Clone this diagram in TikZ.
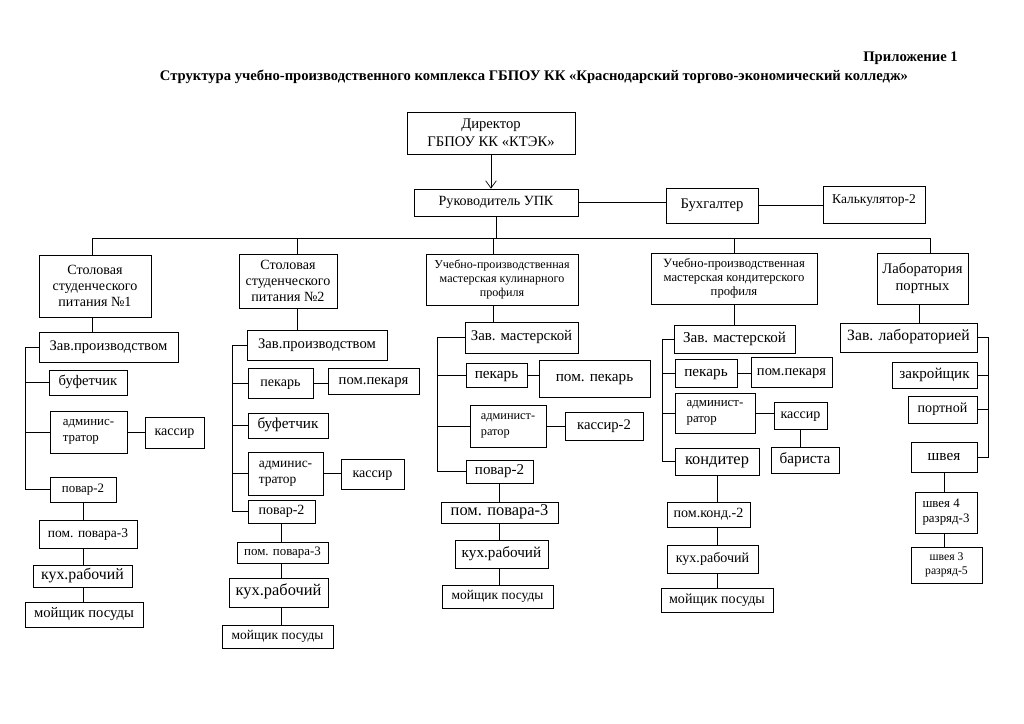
\documentclass[tikz,border=0pt]{standalone}
\usepackage{fontspec}
\setmainfont{Liberation Serif}
\usetikzlibrary{arrows.meta}

\tikzset{
  box/.style={draw, inner sep=0pt, align=center, font=\fontsize{12}{14}\selectfont,
    text height=8pt, text depth=2.6pt},
  lines/.style={text height=, text depth=},
  wh/.style 2 args={minimum width={#1*0.3mm}, minimum height={#2*0.3mm}},
  fs/.style={font=\fontsize{#1}{14}\selectfont},
  fsl/.style={font=\fontsize{#1}{12}\selectfont}
}

\begin{document}
\begin{tikzpicture}[x=0.3mm, y=-0.3mm, line width=0.6pt, >={Straight Barb[length=2.2mm,width=3.2mm]}]
  \useasboundingbox (0,0) rectangle (1024,724);

  % заголовок
  \node[anchor=east, font=\bfseries\fontsize{12.5}{14}\selectfont] (app) at (962,58) {Приложение 1};
  \node[font=\bfseries\fontsize{12.5}{14}\selectfont] (title) at (534,77) {Структура учебно-производственного комплекса ГБПОУ КК «Краснодарский торгово-экономический колледж»};

  % руководство
  \node[box, lines, wh={168}{42}, font=\fontsize{12.5}{15.5}\selectfont] (dir) at (491,133) {Директор\\ГБПОУ КК «КТЭК»};
  \node[box, wh={164}{27}] (ruk) at (496,202.5) {Руководитель УПК};
  \node[box, wh={92}{35}, fs=12.5] (buh) at (712,205.5) {Бухгалтер};
  \node[box, wh={102}{37}, fs=11.5, text depth=10.2pt] (kalk) at (874,204.5) {Калькулятор-2};

  \draw[->] (dir.south) -- (dir.south |- ruk.north);
  \draw (ruk.east) -- (ruk.east -| buh.west);
  \draw (buh.east) -- (buh.east -| kalk.west);

  % столовая №1
  \node[box, lines, wh={112}{62}] (head1) at (95,286) {Столовая\\студенческого\\питания №1};
  \node[box, wh={139}{30}, fs=12.5] (zav1) at (108.5,347) {Зав.производством};
  \node[box, wh={78}{25}, fs=12.5] (buf1) at (88,382.5) {буфетчик};
  \node[box, lines, wh={77}{42}, fs=11, align=left] (adm1) at (88.5,432) {админис-\\тратор};
  \node[box, wh={59}{31}] (kas1) at (174.5,432.5) {кассир};
  \node[box, wh={66}{25}, fs=11] (pov1) at (83,489.5) {повар-2};
  \node[box, wh={98}{28}, fs=11.5] (pom1) at (88,534) {пом. повара-3};
  \node[box, wh={99}{22}, fs=13.5] (kuh1) at (82.5,576) {кух.рабочий};
  \node[box, wh={118}{25}, fs=12.5] (moy1) at (84,614.5) {мойщик посуды};

  % столовая №2
  \node[box, lines, wh={98}{54}] (head2) at (288,281) {Столовая\\студенческого\\питания №2};
  \node[box, wh={140}{30}, fs=12.5] (zav2) at (317,345) {Зав.производством};
  \node[box, wh={65}{30}] (pek2) at (280.5,383) {пекарь};
  \node[box, wh={91}{26}, fs=12.5] (ppek2) at (373.5,381) {пом.пекаря};
  \node[box, wh={80}{25}, fs=13] (buf2) at (288,425.5) {буфетчик};
  \node[box, lines, wh={75}{43}, fs=11.5, align=left] (adm2) at (285.5,473.5) {админис-\\тратор};
  \node[box, wh={63}{30}] (kas2) at (372.5,474) {кассир};
  \node[box, wh={67}{23}] (pov2) at (281.5,511.5) {повар-2};
  \node[box, wh={91}{21}, fs=11] (pom2) at (282.5,552.5) {пом. повара-3};
  \node[box, wh={99}{29}, fs=14] (kuh2) at (278.5,592.5) {кух.рабочий};
  \node[box, wh={111}{23}, fs=11.5] (moy2) at (277.5,636.5) {мойщик посуды};

  % мастерская кулинарного профиля
  \node[box, lines, wh={152}{51}, fsl=10.3] (head3) at (502,279.5) {Учебно-производственная\\мастерская кулинарного\\профиля};
  \node[box, wh={113}{31}, fs=12.7] (zav3) at (521.5,337.5) {Зав. мастерской};
  \node[box, wh={61}{24}, fs=13] (pek3) at (496.5,375) {пекарь};
  \node[box, wh={111}{37}, fs=13] (ppek3) at (594.5,378.5) {пом. пекарь};
  \node[box, lines, wh={76}{42}, fs=10.5, align=left] (adm3) at (508,426) {админист-\\ратор};
  \node[box, wh={78}{28}, fs=12.5] (kas3) at (604,426) {кассир-2};
  \node[box, wh={67}{23}, fs=12.8] (pov3) at (499.5,471.5) {повар-2};
  \node[box, wh={117}{21}, fs=14] (pom3) at (499.5,512.5) {пом. повара-3};
  \node[box, wh={93}{28}, fs=13] (kuh3) at (501.5,554) {кух.рабочий};
  \node[box, wh={111}{23}, fs=11.5] (moy3) at (497.5,596.5) {мойщик посуды};

  % мастерская кондитерского профиля
  \node[box, lines, wh={166}{51}, fsl=10.8] (head4) at (734,278.5) {Учебно-производственная\\мастерская кондитерского\\профиля};
  \node[box, wh={121}{28}, fs=12.9] (zav4) at (734.5,339) {Зав. мастерской};
  \node[box, wh={62}{28}, fs=13] (pek4) at (706,373) {пекарь};
  \node[box, wh={81}{30}, fs=12.4] (ppek4) at (791.5,372) {пом.пекаря};
  \node[box, lines, wh={80}{40}, fs=11, align=left] (adm4) at (715,413) {админист-\\ратор};
  \node[box, wh={53}{27}] (kas4) at (800.5,415.5) {кассир};
  \node[box, wh={68}{26}, fs=13] (bar4) at (805,460) {бариста};
  \node[box, wh={84}{27}, fs=14] (pov4) at (717,461.5) {кондитер};
  \node[box, wh={83}{25}] (pom4) at (708.5,514.5) {пом.конд.-2};
  \node[box, wh={91}{28}] (kuh4) at (712.5,559) {кух.рабочий};
  \node[box, wh={112}{24}] (moy4) at (717,600) {мойщик посуды};

  % лаборатория портных
  \node[box, lines, wh={91}{51}, font=\fontsize{12.5}{15}\selectfont] (head5) at (922.5,278.5) {Лаборатория\\портных};
  \node[box, wh={137}{29}, fs=13.4] (zav5) at (908.5,337.5) {Зав. лабораторией};
  \node[box, wh={85}{26}, fs=12.9] (zakr5) at (934.5,375) {закройщик};
  \node[box, wh={69}{27}] (port5) at (942.5,409.5) {портной};
  \node[box, wh={66}{30}, fs=13] (pov5) at (944,457) {швея};
  \node[box, lines, wh={62}{41}, align=left, font=\fontsize{11}{13}\selectfont] (sh4) at (946,512.5) {швея 4\\разряд-3};
  \node[box, lines, wh={71}{36}, font=\fontsize{10}{12.5}\selectfont] (sh3) at (946.5,565) {швея 3\\разряд-5};

  % общая шина
  \coordinate (s1) at (92,238);
  \coordinate (s2) at (297,238);
  \coordinate (s3) at (493,238);
  \coordinate (s4) at (734,238);
  \coordinate (s5) at (930,238);
  \draw (s1) -- (s5);
  \draw (ruk.south) -- (ruk.south |- s3);
  \foreach \c in {1,...,5} {
    \draw (s\c) -- (s\c |- head\c.north);
  }
  \foreach \c in {1,...,4} {
    \draw (s\c |- head\c.south) -- (s\c |- zav\c.north);
  }
  \coordinate (t5) at (919,0);
  \draw (t5 |- head5.south) -- (t5 |- zav5.north);

  % боковые стойки
  \coordinate (r1) at (25,0);
  \coordinate (r2) at (232,0);
  \coordinate (r3) at (437,0);
  \coordinate (r4) at (662,0);
  \coordinate (r5) at (988,0);
  \foreach \c in {1,...,4} {
    \draw (zav\c.west) -- (zav\c.west -| r\c) -- (pov\c.west -| r\c) -- (pov\c.west);
  }
  \foreach \n/\c in {buf1/1, adm1/1, pek2/2, buf2/2, adm2/2, pek3/3, adm3/3, pek4/4, adm4/4} {
    \draw (\n.west -| r\c) -- (\n.west);
  }
  \draw (zav5.east) -- (zav5.east -| r5) -- (pov5.east -| r5) -- (pov5.east);
  \draw (zakr5.east) -- (zakr5.east -| r5);
  \draw (port5.east) -- (port5.east -| r5);

  % связи вбок
  \draw (adm1.east) -- (adm1.east -| kas1.west);
  \draw (pek2.east) -- (pek2.east -| ppek2.west);
  \draw (adm2.east) -- (adm2.east -| kas2.west);
  \draw (pek3.east) -- (pek3.east -| ppek3.west);
  \draw (adm3.east) -- (adm3.east -| kas3.west);
  \draw (pek4.east) -- (pek4.east -| ppek4.west);
  \draw (adm4.east) -- (adm4.east -| kas4.west);
  \draw (kas4.south) -- (kas4.south |- bar4.north);

  % цепочки вниз
  \foreach \c in {1,...,4} {
    \draw (pov\c.south) -- (pov\c.south |- pom\c.north);
    \draw (pom\c.south -| pov\c) -- (kuh\c.north -| pov\c);
    \draw (kuh\c.south -| pov\c) -- (moy\c.north -| pov\c);
  }
  \draw (pov5.south) -- (pov5.south |- sh4.north);
  \draw (sh4.south -| pov5) -- (sh3.north -| pov5);
\end{tikzpicture}
\end{document}
